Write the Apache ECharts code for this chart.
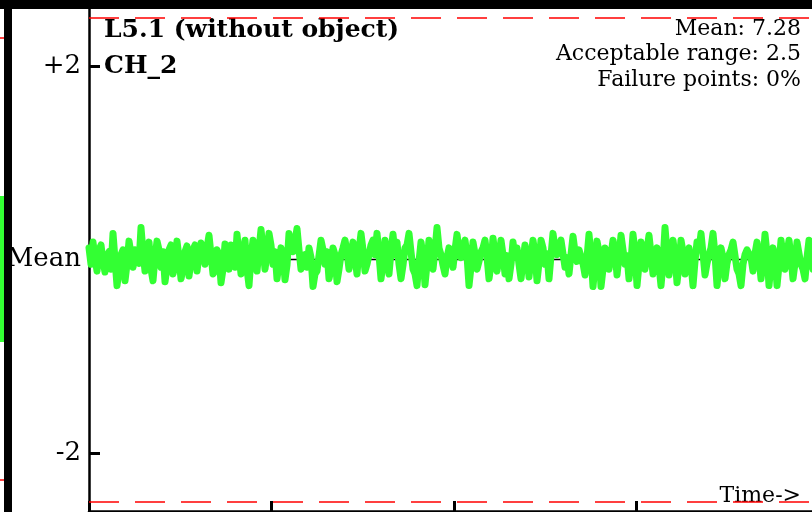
<!DOCTYPE html>
<html>
<head>
<meta charset="utf-8">
<script src="https://cdn.jsdelivr.net/npm/echarts@6/dist/echarts.min.js"></script>
<style>
html, body { margin: 0; padding: 0; background: #fff; }
#chart { width: 812px; height: 512px; }
</style>
</head>
<body>
<div id="chart"></div>
<script>
var title = 'L5.1 (without object)';
var channel = 'CH_2';
var meanValue = 7.28;
var acceptableRange = 2.5;
var failurePoints = '0%';

// y ticks are offsets from the mean
var yLabelValues = [-2, 0, 2];
var yTickValues = [-2, 2];
var timeTickStep = 91.25;   // samples between time ticks
var timeMax = 456.25;

// signal minus mean, one sample per step
var signal = [
	0.12, -0.05, 0.18, 0.02, -0.12, 0.1, 0.15, -0.02, -0.13, 0.04, 0.08, -0.1,
	0.27, 0.0, -0.27, -0.12, 0.05, 0.1, -0.22, -0.05, 0.19, 0.06, -0.08, 0.1,
	0.12, -0.04, 0.33, 0.08, -0.12, 0.05, 0.18, -0.1, -0.22, 0.02, 0.19, 0.1,
	-0.08, 0.08, -0.23, -0.08, 0.1, 0.15, -0.15, -0.06, 0.19, 0.02, -0.2, -0.1,
	0.08, 0.14, -0.17, -0.02, 0.1, 0.15, -0.12, 0.04, 0.17, 0.1, -0.05, 0.12,
	0.25, 0.05, -0.15, -0.12, 0.1, 0.05, -0.24, -0.1, 0.16, 0.02, -0.1, 0.15,

	0.12, -0.08, 0.26, 0.05, -0.15, 0.06, 0.2, -0.1, -0.27, 0.02, 0.2, 0.08,
	-0.12, 0.1, 0.31, 0.12, -0.1, 0.06, 0.27, 0.15, -0.05, 0.08, -0.2, -0.04,
	0.12, 0.04, -0.21, -0.06, 0.27, 0.15, 0.08, 0.18, 0.32, 0.1, -0.1, -0.02,
	0.05, -0.08, 0.12, 0.02, -0.28, -0.15, -0.12, 0.04, 0.2, 0.1, -0.05, 0.08,
	-0.2, -0.1, 0.12, 0.05, -0.23, -0.1, 0.05, 0.12, 0.2, 0.08, -0.1, 0.05,
	0.18, 0.02, -0.15, 0.1, 0.27, 0.1, -0.12, -0.05, 0.05, 0.15, 0.2, 0.05,

	0.27, 0.05, -0.2, -0.04, 0.2, 0.02, -0.15, 0.08, 0.26, 0.05, 0.18, -0.05,
	-0.2, -0.06, 0.12, 0.15, 0.27, 0.08, -0.1, -0.15, -0.27, -0.02, 0.18, 0.04,
	-0.26, -0.05, 0.2, 0.06, -0.1, 0.1, 0.33, 0.12, 0.05, -0.06, -0.15, 0.02,
	0.12, 0.03, -0.08, 0.1, 0.26, 0.1, 0.02, 0.12, 0.2, 0.04, -0.27, -0.08,
	0.18, 0.06, -0.1, -0.02, 0.08, 0.12, 0.2, 0.03, -0.2, -0.05, 0.22, 0.06,
	-0.12, 0.02, 0.2, 0.05, -0.15, 0.04, -0.2, -0.05, 0.18, 0.02, 0.12, -0.05,

	-0.2, -0.02, 0.15, 0.04, -0.18, 0.02, 0.2, 0.06, -0.22, -0.04, 0.2, 0.12,
	-0.05, 0.06, -0.2, 0.04, 0.27, 0.12, 0.05, 0.14, 0.2, 0.06, -0.08, 0.02,
	-0.15, 0.05, 0.24, 0.08, -0.02, 0.1, 0.12, -0.04, -0.16, 0.02, 0.26, 0.05,
	-0.28, -0.06, 0.19, 0.08, -0.28, -0.1, 0.12, 0.04, -0.1, 0.05, 0.2, 0.08,
	-0.16, 0.03, 0.25, 0.1, -0.05, 0.04, -0.2, -0.02, 0.26, 0.08, -0.27, -0.05,
	0.18, 0.05, -0.1, 0.1, 0.25, 0.06, -0.15, 0.02, 0.12, -0.06, -0.27, -0.04,

	0.33, 0.08, -0.16, 0.02, 0.2, 0.04, -0.24, -0.06, 0.2, 0.08, -0.15, 0.04,
	0.12, -0.05, -0.27, -0.02, 0.18, 0.1, 0.27, 0.06, -0.16, -0.04, 0.05, 0.12,
	0.27, 0.05, -0.27, -0.06, 0.12, 0.02, -0.2, -0.04, 0.05, 0.1, 0.18, 0.04,
	-0.1, -0.15, -0.27, -0.05, 0.05, 0.1, 0.12, 0.02, -0.12, 0.06, 0.18, 0.03,
	-0.2, -0.02, 0.26, 0.06, -0.27, -0.04, 0.12, 0.02, -0.27, -0.06, 0.2, 0.05,
	-0.1, 0.06, 0.2, 0.02, -0.2, -0.04, 0.18, 0.06, -0.05, -0.1, -0.2, 0.02,
	0.2, 0.05, -0.1, 0.04, 0.1, -0.02, -0.15, 0.05
];

var serif = '"DejaVu Serif", serif';

var signalData = [];
for( var i = 0; i < signal.length; i++ ){
	signalData.push( [i, signal[i]] );
}

var chart = echarts.init( document.getElementById( 'chart' ), null, {renderer:'canvas'} );

chart.setOption( {
	animation:false,
	backgroundColor:'#fff',
	grid:{
		left:89,
		top:8,
		width:timeMax * 2,
		height:503,
		outerBoundsMode:'none',
		containLabel:false
	},
	xAxis:{
		type:'value',
		min:0,
		max:timeMax,
		interval:timeTickStep,
		axisLine:{ onZero:false, lineStyle:{ color:'#000', width:2.5 } },
		axisTick:{ inside:true, length:10, lineStyle:{ color:'#000', width:3 } },
		axisLabel:{ show:false },
		splitLine:{ show:false }
	},
	yAxis:{
		type:'value',
		min:-2.6,
		max:2.6,
		axisLine:{ show:true, lineStyle:{ color:'#000', width:2.5 } },
		axisTick:{
			show:true,
			inside:true,
			length:11,
			customValues:yTickValues,
			lineStyle:{ color:'#000', width:3 }
		},
		axisLabel:{
			customValues:yLabelValues,
			margin:8,
			color:'#000',
			fontFamily:serif,
			fontSize:26,
			formatter:function(v){
				if( v == 0 ) return 'Mean';
				return v > 0 ? '+' + v : String( v );
			}
		},
		splitLine:{ show:false }
	},
	series:[
		{
			name:'mean',
			type:'line',
			data:[[0, 0], [timeMax, 0]],
			symbol:'none',
			silent:true,
			z:1,
			lineStyle:{ color:'#000', width:1.5 },
			markLine:{
				silent:true,
				symbol:['none', 'none'],
				label:{ show:false },
				lineStyle:{ color:'#ff0000', type:[30, 16], width:1.5 },
				data:[ { yAxis:acceptableRange }, { yAxis:-acceptableRange } ]
			}
		},
		{
			name:channel,
			type:'line',
			data:signalData,
			symbol:'none',
			z:2,
			lineStyle:{ color:'#33ff33', width:7, cap:'round', join:'round' }
		}
	],
	graphic:[
		// frame pieces of the surrounding figure
		{ type:'rect', shape:{ x:0, y:0, width:812, height:9 }, style:{ fill:'#000' } },
		{ type:'rect', shape:{ x:4, y:0, width:8, height:512 }, style:{ fill:'#000' } },
		{ type:'rect', shape:{ x:0, y:196, width:4, height:146 }, style:{ fill:'#33ff33' } },
		{ type:'line', shape:{ x1:0, y1:38, x2:4, y2:38 }, style:{ stroke:'#ff0000', lineWidth:1.5 } },
		{ type:'line', shape:{ x1:0, y1:480, x2:4, y2:480 }, style:{ stroke:'#ff0000', lineWidth:1.5 } },
		// titles
		{ type:'text', x:104, y:30, style:{ text:title, font:'bold 25px ' + serif, fill:'#000', textVerticalAlign:'middle' } },
		{ type:'text', x:104, y:66, style:{ text:channel, font:'bold 25px ' + serif, fill:'#000', textVerticalAlign:'middle' } },
		{ type:'text', x:801, y:29, style:{ text:'Mean: ' + meanValue, font:'22px ' + serif, fill:'#000', textAlign:'right', textVerticalAlign:'middle' } },
		{ type:'text', x:801, y:54, style:{ text:'Acceptable range: ' + acceptableRange, font:'22px ' + serif, fill:'#000', textAlign:'right', textVerticalAlign:'middle' } },
		{ type:'text', x:801, y:80, style:{ text:'Failure points: ' + failurePoints, font:'22px ' + serif, fill:'#000', textAlign:'right', textVerticalAlign:'middle' } },
		{ type:'text', x:801, y:496, style:{ text:'Time->', font:'22px ' + serif, fill:'#000', textAlign:'right', textVerticalAlign:'middle' } }
	]
} );
</script>
</body>
</html>
